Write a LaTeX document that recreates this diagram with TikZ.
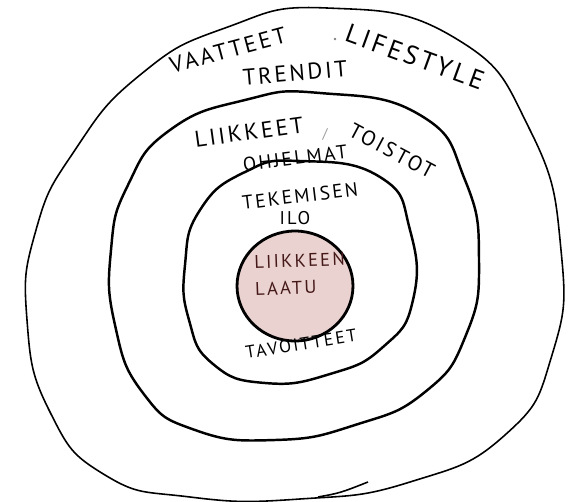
\documentclass[tikz,border=0pt]{standalone}
\usepackage{fontspec}
\newfontfamily\handfont[LetterSpace=12]{PT Sans}
\definecolor{corepink}{RGB}{233, 210, 208}
\definecolor{coreink}{RGB}{70, 25, 25}
\usetikzlibrary{positioning, shapes.geometric}

\begin{document}
\begin{tikzpicture}[x=0.02cm, y=-0.02cm,
  ring/.style={line width=1.4pt, line join=round},
  hand/.style={inner sep=0pt, font=\handfont\fontsize{#1}{#1}\selectfont}
]
  \useasboundingbox (0,0) rectangle (572,501);

  % Rings, outside in
  \draw[ring, line width=0.9pt] plot[smooth cycle, tension=0.85] coordinates {
    (327,8) (455,38) (530,130) (561,250) (552,355) (505,435) (410,482)
    (300,499) (190,497) (105,475) (50,412) (27,320) (36,230) (75,150)
    (140,75) (225,28)};
  \draw[ring, line width=0.9pt] (318,497) .. controls (340,493) .. (368,482);
  \draw[ring] plot[smooth cycle, tension=0.85] coordinates {
    (320,93) (420,115) (465,180) (479,260) (466,335) (425,392) (355,425)
    (275,440) (195,430) (143,393) (115,325) (111,250) (128,185) (170,130)
    (245,100)};
  \draw[ring] plot[smooth cycle, tension=0.85] coordinates {
    (300,161) (380,177) (410,230) (413,300) (383,347) (330,374) (265,383)
    (213,364) (189,320) (185,265) (200,210) (245,172)};

  % Core
  \node[ellipse, draw, line width=1.6pt, fill=corepink, minimum width=2.32cm,
        minimum height=2.2cm, inner sep=0pt] (core) at (295,286) {};
  \node[hand=10.5, text=coreink, align=left, rotate=2] (laatu) at (300,274)
    {LIIKKEEN\\[5pt]LAATU};

  % Outer ring texts
  \node[hand=13, rotate=15] (vaatteet) at (228,50) {VAATTEET};
  \node[fill=black!50, circle, inner sep=0.6pt] (dot) at (335,39) {};
  \node[hand=15, rotate=-20] (lifestyle) at (415,57) {LIFESTYLE};
  \node[hand=13, rotate=5] (trendit) at (295,73) {TRENDIT};

  % Second ring texts
  \node[hand=13, rotate=8] (liikkeet) at (249,132) {LIIKKEET};
  \node[hand=8, text=black!40] (slash) at (325,134) {/};
  \node[hand=12, rotate=-28] (toistot) at (392,151) {TOISTOT};
  \node[hand=11, rotate=7] (ohjelmat) at (295,158) {OHJELMAT};

  % Third ring texts
  \node[hand=11, rotate=7] (tekemisen) at (300,196) {TEKEMISEN};
  \node[hand=10.5] (ilo) at (295,218) {ILO};
  \node[hand=10, rotate=9] (tavoitteet) at (301,344) {TAVOITTEET};
\end{tikzpicture}
\end{document}
